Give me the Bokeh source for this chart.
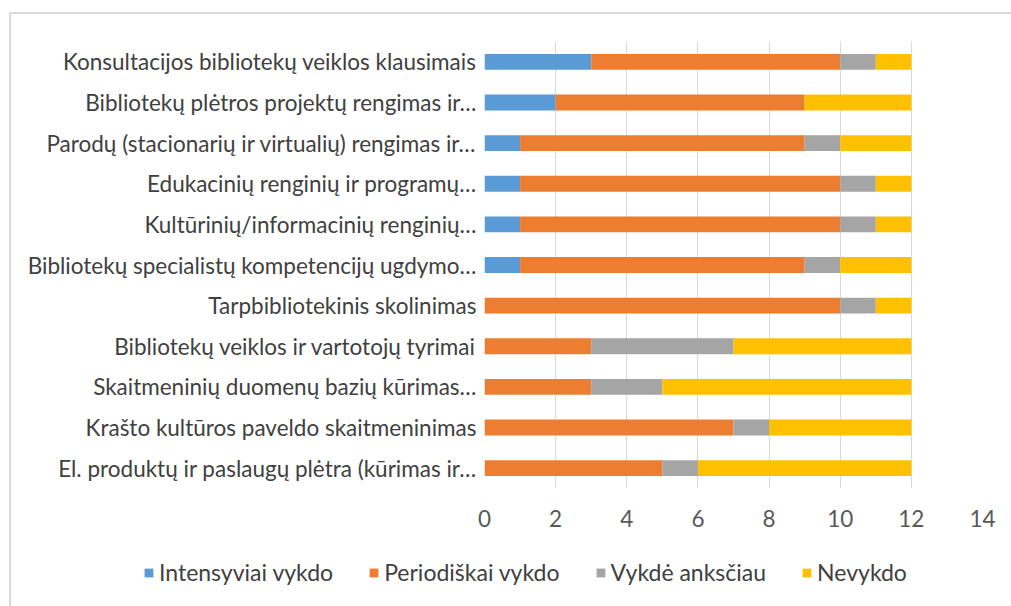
from bokeh.plotting import figure
from bokeh.layouts import column
from bokeh.models import FactorRange, Range1d, FixedTicker, Legend, LegendItem
from bokeh.embed import file_html
from bokeh.resources import INLINE

categories = [
    "Konsultacijos bibliotekų veiklos klausimais",
    "Bibliotekų plėtros projektų rengimas ir…",
    "Parodų (stacionarių ir virtualių) rengimas ir…",
    "Edukacinių renginių ir programų…",
    "Kultūrinių/informacinių renginių…",
    "Bibliotekų specialistų kompetencijų ugdymo…",
    "Tarpbibliotekinis skolinimas",
    "Bibliotekų veiklos ir vartotojų tyrimai",
    "Skaitmeninių duomenų bazių kūrimas…",
    "Krašto kultūros paveldo skaitmeninimas",
    "El. produktų ir paslaugų plėtra (kūrimas ir…",
]
series_names = ["Intensyviai vykdo", "Periodiškai vykdo", "Vykdė anksčiau", "Nevykdo"]
intensyviai = [3, 2, 1, 1, 1, 1, 0, 0, 0, 0, 0]
periodiskai = [7, 7, 8, 9, 9, 8, 10, 3, 3, 7, 5]
vykde = [1, 0, 1, 1, 1, 1, 1, 4, 2, 1, 1]
nevykdo = [1, 3, 2, 1, 1, 2, 1, 5, 7, 4, 6]
x_ticks = [0, 2, 4, 6, 8, 10, 12, 14]
colors = ["#5B9BD5", "#ED7D31", "#A5A5A5", "#FFC000"]

FONT = "Lato"
FS = "22.5px"
W = 1011
H1, H2 = 545, 61

p = figure(
    width=W, height=H1,
    y_range=FactorRange(*reversed(categories)),
    x_range=Range1d(0, 14),
    output_backend="svg", toolbar_location=None,
    min_border_left=484, min_border_right=W - 982,
    min_border_top=41, min_border_bottom=H1 - 488,
)
p.border_fill_color = None
p.background_fill_color = None
p.frame_align = False

data = dict(cat=categories)
keys = ["s0", "s1", "s2", "s3"]
for k, vals in zip(keys, [intensyviai, periodiskai, vykde, nevykdo]):
    data[k] = vals

p.hbar_stack(keys, y="cat", height=0.39, color=colors, source=data, line_width=0)

p.outline_line_color = None
p.ygrid.grid_line_color = None
p.xgrid.grid_line_color = "#D9D9D9"
p.xgrid.grid_line_width = 1
p.xaxis.ticker = FixedTicker(ticks=x_ticks)
for ax in (p.xaxis[0], p.yaxis[0]):
    ax.axis_line_color = None
    ax.major_tick_line_color = None
    ax.minor_tick_line_color = None
    ax.major_tick_out = 0
    ax.major_tick_in = 0
    ax.minor_tick_out = 0
    ax.major_label_text_font = FONT
    ax.major_label_text_font_size = FS
p.xaxis.major_label_text_color = "#595959"
p.yaxis.major_label_text_color = "#404040"
p.xaxis.major_label_standoff = 21
p.yaxis.major_label_standoff = 8

# legend strip: a second figure with hidden copies of the bars, so the legend
# can span the full width without being clipped by the main plot frame
lg = figure(
    width=W, height=H2, x_range=Range1d(0, 14), y_range=FactorRange(*categories),
    output_backend="svg", toolbar_location=None,
    min_border_left=0, min_border_right=0, min_border_top=0, min_border_bottom=0,
)
lg.frame_align = False
lg.axis.visible = False
lg.grid.visible = False
lg.outline_line_color = None
lg.border_fill_color = None
lg.background_fill_color = None
lg_renderers = lg.hbar_stack(keys, y="cat", height=0.39, color=colors, source=data, line_width=0)
for r in lg_renderers:
    r.visible = False
items = [LegendItem(label=n, renderers=[r]) for n, r in zip(series_names, lg_renderers)]
legend = Legend(
    items=items, orientation="horizontal",
    location=(143, 20),
    padding=0, margin=0, spacing=35,
    glyph_width=11, glyph_height=11, label_standoff=5,
    label_text_font=FONT, label_text_font_size="23px", label_text_color="#404040",
    border_line_color=None, background_fill_alpha=0,
)
lg.add_layout(legend, "center")

layout = column(p, lg, spacing=0)
layout.styles = {
    "background": "linear-gradient(#D9D9D9,#D9D9D9) 9px 12px / 2px 100% no-repeat, "
                  "linear-gradient(#D9D9D9,#D9D9D9) 9px 12px / 100% 2px no-repeat, #FFFFFF",
}

open("out.html", "w").write(file_html(layout, INLINE))
